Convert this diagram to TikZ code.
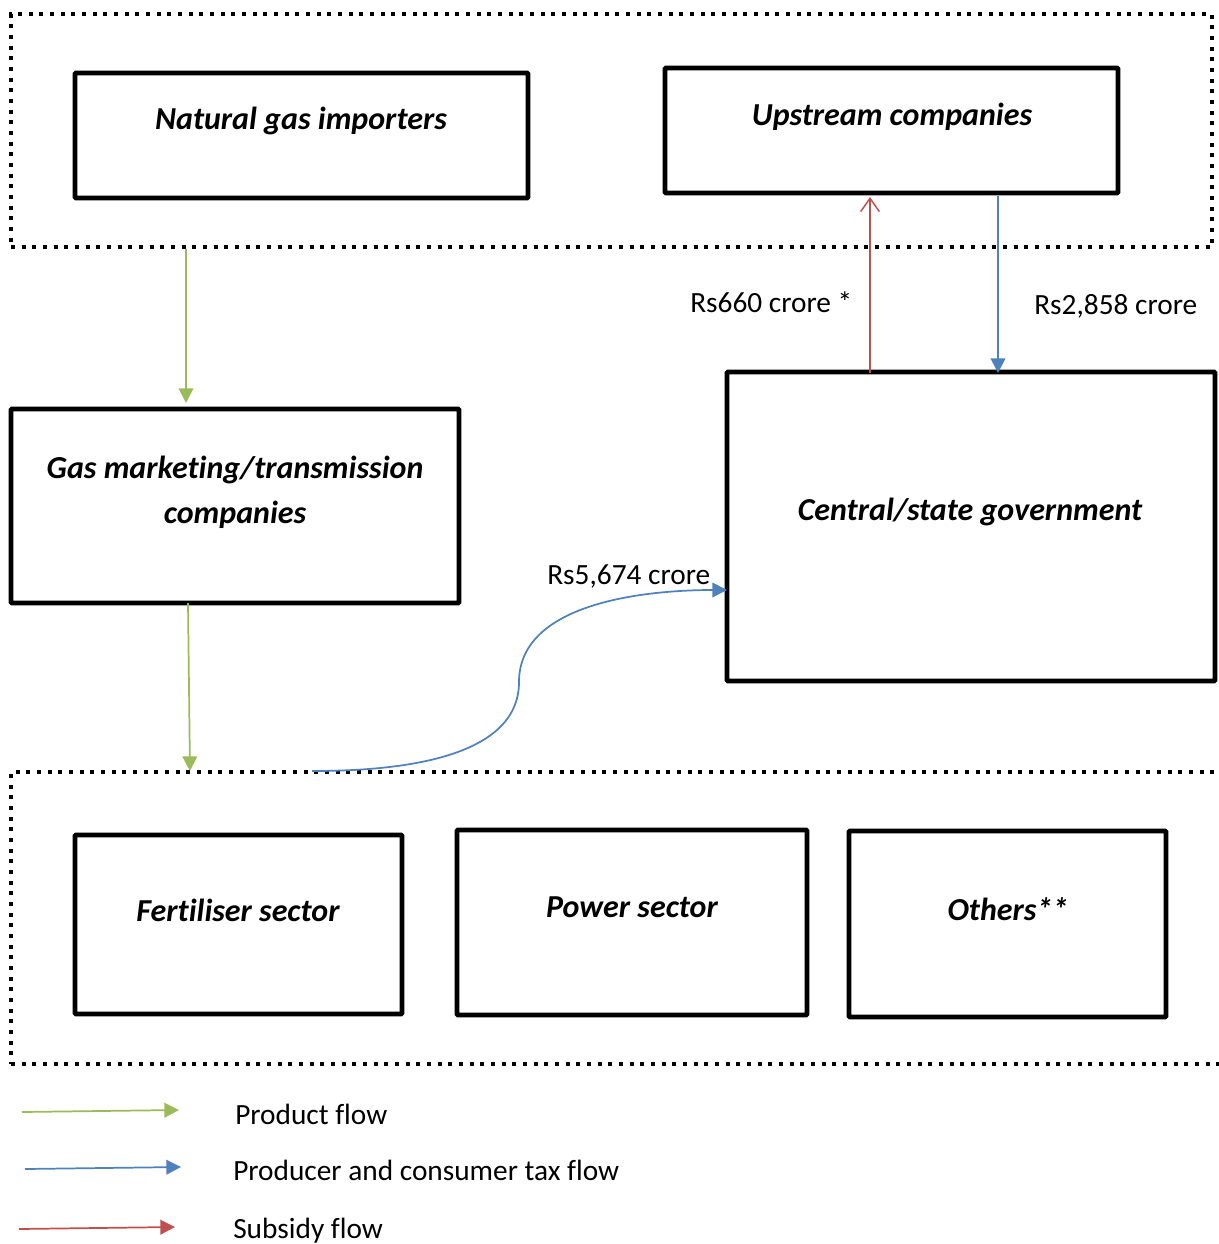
\documentclass[tikz,border=0pt]{standalone}
\usepackage{fontspec}
\setmainfont{Carlito}[Ligatures=NoCommon]
\usetikzlibrary{arrows.meta,fit}
\definecolor{prodgreen}{HTML}{9BBB59}
\definecolor{taxblue}{HTML}{4F81BD}
\definecolor{subred}{HTML}{C0504D}
\tikzset{
  box/.style={draw=black, line width=3.6pt, rounded corners=0.8pt, inner sep=0pt},
  group/.style={draw=black, line width=3pt, dash pattern=on 3pt off 5pt, inner sep=0pt},
  boxtext/.style={font=\fontsize{24}{29}\selectfont\bfseries\itshape, align=center, inner sep=0pt},
  amount/.style={font=\fontsize{22}{26}\selectfont, inner sep=0pt, anchor=west},
  legtext/.style={font=\fontsize{22}{26}\selectfont, inner sep=0pt, anchor=west},
  prod/.style={draw=prodgreen, line width=1.3pt, -{Triangle[length=11pt,width=11pt]}},
  tax/.style={draw=taxblue, line width=1.3pt, -{Triangle[length=11pt,width=11pt]}},
  sub/.style={draw=subred, line width=1.3pt, -{Straight Barb[length=10pt,width=14pt,line width=1.1pt]}},
  legprod/.style={draw=prodgreen, line width=1.3pt, -{Triangle[length=11pt,width=11pt]}},
  legtax/.style={draw=taxblue, line width=1.3pt, -{Triangle[length=11pt,width=11pt]}},
  legsub/.style={draw=subred, line width=1.3pt, -{Triangle[length=11pt,width=11pt]}},
}
\begin{document}
\begin{tikzpicture}[x=0.75pt, y=-0.75pt]
\useasboundingbox (0,0) rectangle (1219,1244);
\begin{scope}
\clip (0,0) rectangle (1219,1244);

% supplier group and consumer group
\node (top) [group, fit={(11,14) (1212,247)}] {};
\node (bottom) [group, fit={(11,772) (1240,1064)}] {};

% boxes
\node (imp) [box, fit={(75,73) (528,198)}] {};
\node (up) [box, fit={(665,68) (1118,193)}] {};
\node (gas) [box, fit={(11,409) (459,603)}] {};
\node (gov) [box, fit={(727,372) (1215,681)}] {};
\node (fert) [box, fit={(75,835) (402,1014)}] {};
\node (pow) [box, fit={(457,830) (807,1015)}] {};
\node (oth) [box, fit={(849,831) (1166,1017)}] {};

% box labels
\node (impT) [boxtext] at (301,121) {Natural gas importers};
\node (upT) [boxtext] at (892,117) {Upstream companies};
\node (gasT) [boxtext, align=center] at (235,492) {Gas marketing/transmission\\[5pt]companies};
\node (govT) [boxtext] at (970,512) {Central/state government};
\node (fertT) [boxtext] at (238,910) {Fertiliser sector};
\node (powT) [boxtext] at (632,907) {Power sector};
\node (othT) [boxtext] at (1008,909) {Others**};

% product flow
\coordinate (p1a) at (186,249);
\coordinate (p1b) at (186,403);
\coordinate (p2a) at (188,603);
\coordinate (p2b) at (190,771);
\draw[prod] (p1a) -- (p1b);
\draw[prod] (p2a) -- (p2b);

% subsidy and tax flows between government and upstream companies
\coordinate (s1a) at (870,373);
\coordinate (s1b) at (870,197);
\coordinate (t1a) at (998,196);
\coordinate (t1b) at (998,373);
\draw[sub] (s1a) -- (s1b);
\draw[tax] (t1a) -- (t1b);
\node (s1L) [amount] at (690,302) {Rs660 crore *};
\node (t1L) [amount] at (1034,306) {Rs2,858 crore};

% tax flow from consumers to government
\coordinate (t2a) at (312,771);
\coordinate (t2m) at (519,682);
\coordinate (t2b) at (727,590);
\draw[tax] (t2a) to[out=0, in=-90, looseness=0.9] (t2m)
                to[out=90, in=180, looseness=0.9] (t2b);
\node (t2L) [amount] at (547,576) {Rs5,674 crore};

% legend
\coordinate (l1a) at (22,1112);
\coordinate (l1b) at (179,1110);
\coordinate (l2a) at (25,1169);
\coordinate (l2b) at (181,1167);
\coordinate (l3a) at (19,1229);
\coordinate (l3b) at (175,1227);
\draw[legprod] (l1a) -- (l1b);
\draw[legtax] (l2a) -- (l2b);
\draw[legsub] (l3a) -- (l3b);
\node (l1T) [legtext] at (235,1114) {Product flow};
\node (l2T) [legtext] at (233,1170) {Producer and consumer tax flow};
\node (l3T) [legtext] at (233,1231) {Subsidy flow};
\end{scope}
\end{tikzpicture}
\end{document}
